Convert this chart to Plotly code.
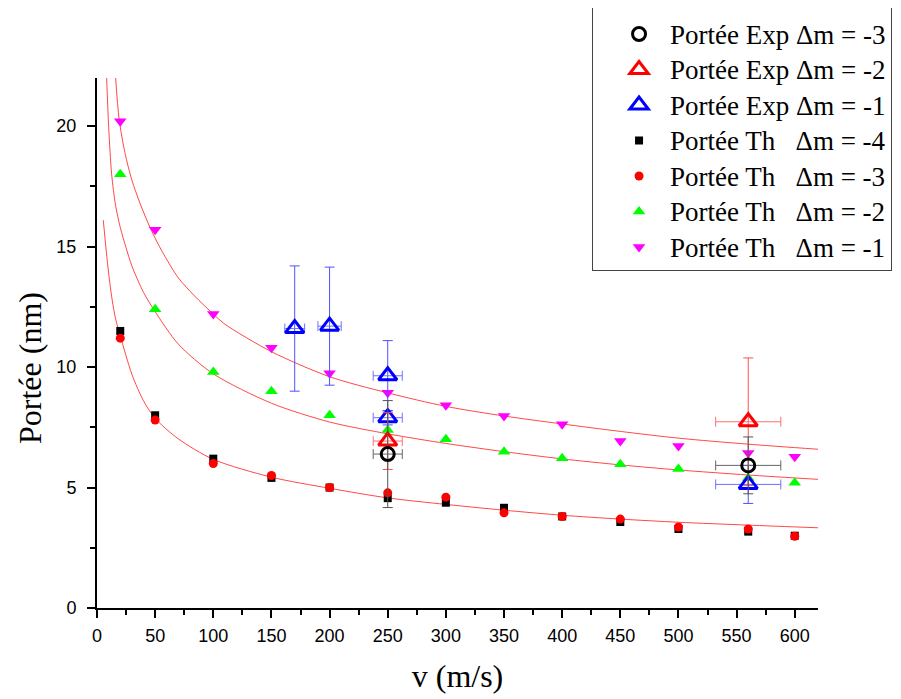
import plotly.graph_objects as go

# ---------------- data ----------------
v_th = [20, 50, 100, 150, 200, 250, 300, 350, 400, 450, 500, 560, 600]
th_m4 = [11.5, 8.0, 6.2, 5.4, 5.0, 4.56, 4.37, 4.16, 3.8, 3.57, 3.28, 3.17, 3.0]
th_m3 = [11.2, 7.8, 6.0, 5.5, 5.0, 4.78, 4.6, 3.95, 3.8, 3.69, 3.36, 3.28, 2.98]
th_m2 = [18.0, 12.4, 9.8, 9.0, 8.0, 7.39, 7.0, 6.49, 6.22, 5.97, 5.77, 5.4, 5.2]
th_m1 = [20.2, 15.7, 12.2, 10.8, 9.74, 8.93, 8.42, 7.97, 7.63, 6.93, 6.72, 6.43, 6.28]

exp_m3_v = [250, 560]
exp_m3 = [6.39, 5.92]
exp_m3_ey = [2.22, 1.18]
exp_m3_ex = [12.5, 28]

exp_m2_v = [250, 560]
exp_m2 = [6.93, 7.73]
exp_m2_ey = [1.18, 2.65]
exp_m2_ex = [12.5, 28]

exp_m1_v = [170, 200, 250, 250, 560]
exp_m1 = [11.6, 11.7, 9.64, 7.9, 5.13]
exp_m1_ey = [2.6, 2.45, 1.46, 0.3, 0.79]
exp_m1_ex = [8.5, 10, 12.5, 12.5, 28]

# fitted curves
fit1_v = [5.4, 8, 10, 13, 16, 20, 30, 40, 50, 70, 100, 150, 200, 250, 300, 350, 400, 450, 500, 560, 620]
fit1_y = [16.1, 14.8, 13.9, 12.8, 12.0, 11.3, 9.7, 8.6, 7.87, 7.02, 6.17, 5.43, 4.97, 4.57, 4.3, 4.06, 3.85, 3.69, 3.56, 3.44, 3.33]
fit2_v = [8.3, 10, 12.6, 16, 20, 25, 30, 40, 50, 70, 100, 150, 200, 250, 300, 350, 400, 450, 500, 560, 620]
fit2_y = [22.0, 20.0, 18.0, 16.7, 15.8, 14.95, 14.2, 13.1, 12.3, 10.95, 9.72, 8.5, 7.72, 7.23, 6.83, 6.49, 6.19, 5.94, 5.73, 5.52, 5.34]
fit3_v = [16, 19, 24, 30, 37, 46, 56, 70, 84, 100, 110, 150, 200, 250, 300, 350, 400, 450, 500, 560, 620]
fit3_y = [22.0, 20.3, 18.9, 17.76, 16.8, 15.75, 14.8, 13.7, 12.95, 12.2, 11.78, 10.64, 9.6, 8.93, 8.37, 7.97, 7.64, 7.33, 7.05, 6.8, 6.59]

x_ticks = [0, 50, 100, 150, 200, 250, 300, 350, 400, 450, 500, 550, 600]
y_ticks = [0, 5, 10, 15, 20]

SP = "\u00a0"
labels = [
    "Portée Exp Δm = -3",
    "Portée Exp Δm = -2",
    "Portée Exp Δm = -1",
    "Portée Th" + SP * 3 + "Δm = -4",
    "Portée Th" + SP * 3 + "Δm = -3",
    "Portée Th" + SP * 3 + "Δm = -2",
    "Portée Th" + SP * 3 + "Δm = -1",
]
names = ["<span style='font-size:27px'>" + s + "</span>" for s in labels]

fig = go.Figure()

# fit curves
for fv, fy in [(fit1_v, fit1_y), (fit2_v, fit2_y), (fit3_v, fit3_y)]:
    fig.add_trace(go.Scatter(x=fv, y=fy, mode="lines", showlegend=False,
                             line=dict(color="rgba(255,40,40,0.85)", width=1, shape="spline", smoothing=0.8),
                             hoverinfo="skip"))

# theoretical points
fig.add_trace(go.Scatter(x=v_th, y=th_m4, mode="markers", name=names[3], legendrank=4,
                         marker=dict(symbol="square", size=8, color="black")))
fig.add_trace(go.Scatter(x=v_th, y=th_m3, mode="markers", name=names[4], legendrank=5,
                         marker=dict(symbol="circle", size=9, color="#ff0000")))
fig.add_trace(go.Scatter(x=v_th, y=th_m2, mode="markers", name=names[5], legendrank=6,
                         marker=dict(symbol="triangle-up", size=11, color="#00ff00")))
fig.add_trace(go.Scatter(x=v_th, y=th_m1, mode="markers", name=names[6], legendrank=7,
                         marker=dict(symbol="triangle-down", size=11, color="#ff00ff")))

# experimental points
fig.add_trace(go.Scatter(x=exp_m1_v, y=exp_m1, mode="markers", name=names[2], legendrank=3,
                         marker=dict(symbol="triangle-up-open", size=16, color="#0000ff", line=dict(width=3)),
                         error_y=dict(type="data", array=exp_m1_ey, color="#5050ff", thickness=1, width=5),
                         error_x=dict(type="data", array=exp_m1_ex, color="#7070ff", thickness=1, width=5)))
fig.add_trace(go.Scatter(x=exp_m2_v, y=exp_m2, mode="markers", name=names[1], legendrank=2,
                         marker=dict(symbol="triangle-up-open", size=16, color="#ff0000", line=dict(width=3)),
                         error_y=dict(type="data", array=exp_m2_ey, color="#ff5050", thickness=1, width=5),
                         error_x=dict(type="data", array=exp_m2_ex, color="#ff7070", thickness=1, width=5)))
fig.add_trace(go.Scatter(x=exp_m3_v, y=exp_m3, mode="markers", name=names[0], legendrank=1,
                         marker=dict(symbol="circle-open", size=13, color="black", line=dict(width=3)),
                         error_y=dict(type="data", array=exp_m3_ey, color="#555555", thickness=1, width=5),
                         error_x=dict(type="data", array=exp_m3_ex, color="#666666", thickness=1, width=5)))

tickfont = dict(family="Liberation Sans, Arial", size=18, color="black")
titlefont = dict(family="Liberation Serif, Times New Roman", size=32, color="black")

fig.update_layout(
    width=901, height=699,
    paper_bgcolor="white", plot_bgcolor="white",
    margin=dict(l=89, r=91, t=70, b=99, autoexpand=False),
    showlegend=True,
    legend=dict(x=0.6866, y=1.145, xanchor="left", yanchor="top",
                bgcolor="white", bordercolor="#444444", borderwidth=1,
                font=dict(family="Liberation Serif, Times New Roman", size=25, color="black"),
                title=dict(text=SP, font=dict(size=7)),
                tracegroupgap=0, itemwidth=52, indentation=15),
    xaxis=dict(range=[0, 620], tickmode="array", tickvals=x_ticks,
               showline=True, linecolor="black", linewidth=2, mirror=False,
               ticks="outside", ticklen=8, tickwidth=2, tickcolor="black",
               minor=dict(ticks="outside", ticklen=5, tickwidth=2, dtick=25, tick0=0, tickcolor="black"),
               showgrid=False, zeroline=False, tickfont=tickfont, ticklabelstandoff=2,
               title=dict(text="v (m/s)", font=titlefont, standoff=20)),
    yaxis=dict(range=[0, 22], tickmode="array", tickvals=y_ticks,
               showline=True, linecolor="black", linewidth=2, mirror=False,
               ticks="outside", ticklen=8, tickwidth=2, tickcolor="black",
               minor=dict(ticks="outside", ticklen=5, tickwidth=2, dtick=2.5, tick0=0, tickcolor="black"),
               showgrid=False, zeroline=False, tickfont=tickfont, ticklabelstandoff=7),
    annotations=[dict(text="Portée (nm)", textangle=-90, xref="paper", yref="paper",
                      x=(30 - 97) / 721, y=(608 - 368) / 530, xanchor="center", yanchor="middle",
                      showarrow=False, font=titlefont)],
)

fig.write_html("out.html")
